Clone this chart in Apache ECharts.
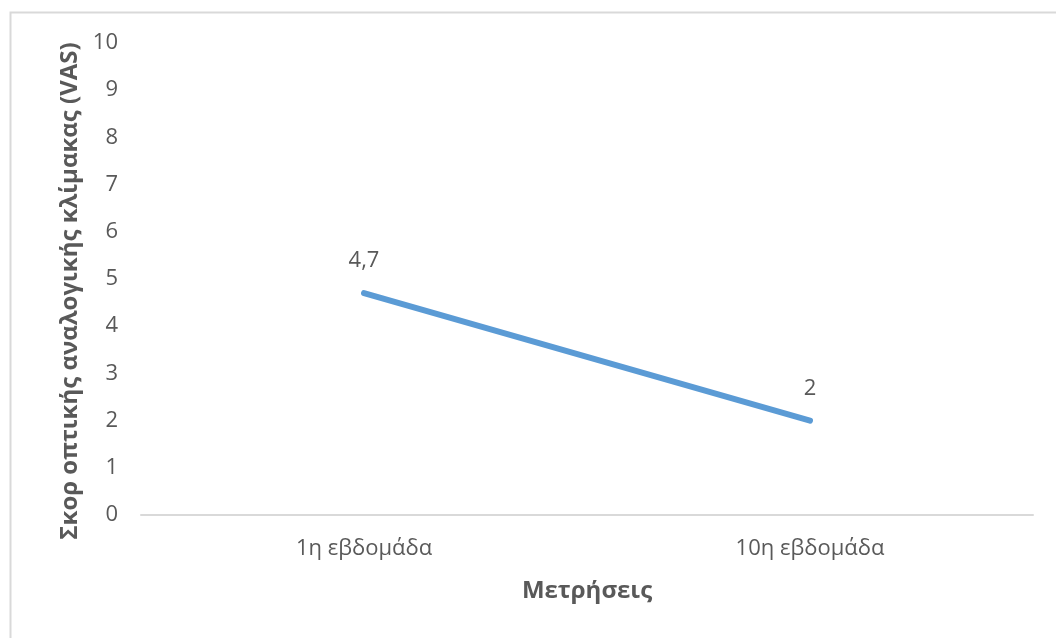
<!DOCTYPE html>
<html>
<head>
<meta charset="utf-8">
<style>
  html, body { margin: 0; padding: 0; background: #fff; }
  #chart { width: 1056px; height: 638px; }
</style>
<script src="https://cdn.jsdelivr.net/npm/echarts@6/dist/echarts.min.js"></script>
</head>
<body>
<div id="chart"></div>
<script>
// Weekly measurements of the VAS score
const categories = ['1η εβδομάδα', '10η εβδομάδα'];
const vasScores = [4.7, 2];
const yTicks = { min: 0, max: 10, interval: 1 };

const textColor = '#595959';
const fontFamily = '"Open Sans", "Liberation Sans", sans-serif';

const chart = echarts.init(document.getElementById('chart'), null, { renderer: 'canvas' });

chart.setOption({
  backgroundColor: '#ffffff',
  animation: false,
  graphic: [{
    type: 'rect',
    left: 8, top: 10,
    shape: { width: 1200, height: 800 },
    style: { fill: 'none', stroke: '#d9d9d9', lineWidth: 2 },
    silent: true,
    z: -1
  }],
  grid: { left: 141, right: 23, top: 43, bottom: 123 },
  xAxis: {
    type: 'category',
    data: categories,
    boundaryGap: true,
    name: 'Μετρήσεις',
    nameLocation: 'middle',
    nameGap: 64,
    nameTextStyle: { color: textColor, fontSize: 24, fontWeight: 'bold', fontFamily },
    axisLine: { show: true, lineStyle: { color: '#d9d9d9', width: 2 } },
    axisTick: { show: false },
    axisLabel: { color: textColor, fontSize: 22, fontFamily, margin: 23 },
    splitLine: { show: false }
  },
  yAxis: {
    type: 'value',
    min: yTicks.min,
    max: yTicks.max,
    interval: yTicks.interval,
    name: 'Σκορ οπτικής αναλογικής κλίμακας (VAS)',
    nameLocation: 'middle',
    nameGap: 58,
    nameRotate: 90,
    nameTextStyle: { color: textColor, fontSize: 24, fontWeight: 'bold', fontFamily, padding: [0, 24, 0, 0] },
    axisLine: { show: false },
    axisTick: { show: false },
    axisLabel: { color: textColor, fontSize: 22, fontFamily, margin: 23 },
    splitLine: { show: false }
  },
  series: [{
    type: 'line',
    data: vasScores,
    symbol: 'circle',
    symbolSize: 0,
    showSymbol: true,
    lineStyle: { color: '#5b9bd5', width: 6, cap: 'round' },
    itemStyle: { color: '#5b9bd5' },
    label: {
      show: true,
      position: 'top',
      distance: 21,
      color: textColor,
      fontSize: 22,
      fontFamily,
      formatter: p => String(p.value).replace('.', ',')
    }
  }]
});
</script>
</body>
</html>
